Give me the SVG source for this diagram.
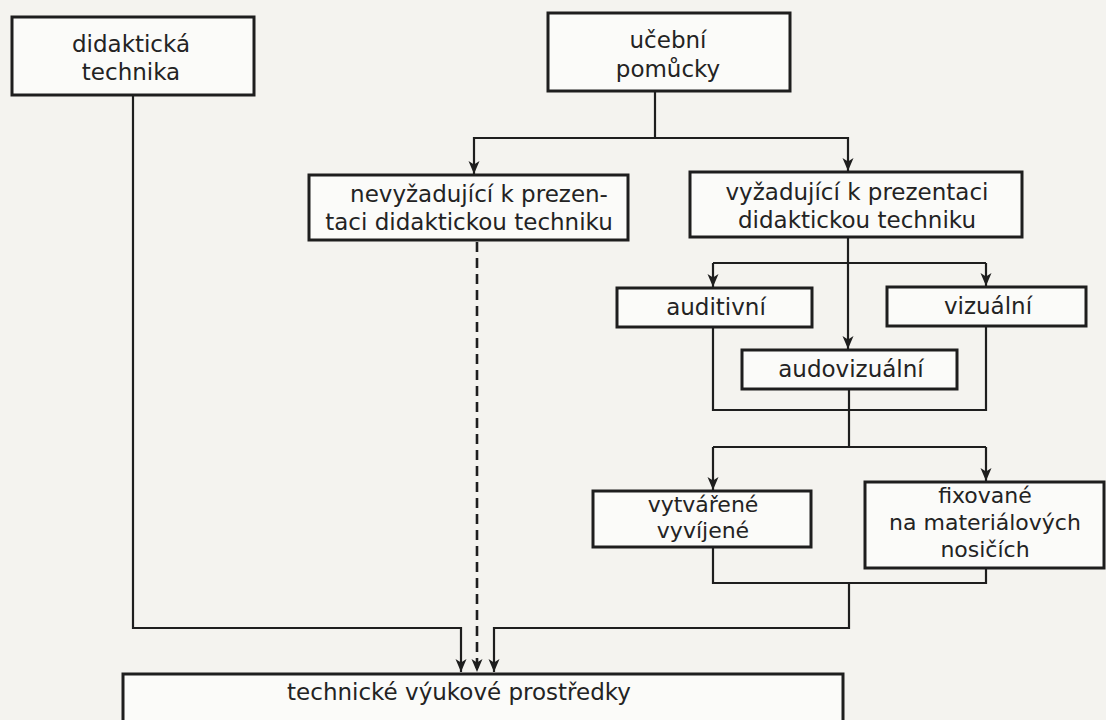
<svg xmlns="http://www.w3.org/2000/svg" width="1106" height="720" viewBox="0 0 1106 720">
<defs>
<marker id="arr" markerUnits="userSpaceOnUse" markerWidth="14" markerHeight="12" viewBox="0 0 14 12" refX="13" refY="6" orient="auto">
<path d="M0,0.5 L13,6 L0,11.5 L3.5,6 z" fill="#1e1e1e"/>
</marker>
<style>
.box{fill:#fbfbf9;stroke:#1e1e1e;stroke-width:3}
.t{font-family:"DejaVu Sans","Liberation Sans",sans-serif;font-size:23px;fill:#232323;text-anchor:middle}
.s{font-size:22px}
.c{fill:none;stroke:#1e1e1e;stroke-width:2.2}
.d{fill:none;stroke:#1e1e1e;stroke-width:2.6;stroke-dasharray:10 6}
</style>
</defs>
<rect width="1106" height="720" fill="#f4f3ef"/>
<g id="connectors">
<path class="c" d="M133,95 V628 H461 V672" marker-end="url(#arr)"/>
<path class="c" d="M655,91 V138 H474 V174" marker-end="url(#arr)"/>
<path class="c" d="M655,138 H848 V171" marker-end="url(#arr)"/>
<path class="c" d="M848,237 V349" marker-end="url(#arr)"/>
<path class="c" d="M713,263 H986" />
<path class="c" d="M713,263 V287" marker-end="url(#arr)"/>
<path class="c" d="M986,263 V286" marker-end="url(#arr)"/>
<path class="c" d="M713,327 V410 H986 V326"/>
<path class="c" d="M849,389 V447"/>
<path class="c" d="M713,447 H986"/>
<path class="c" d="M713,447 V490" marker-end="url(#arr)"/>
<path class="c" d="M986,447 V481" marker-end="url(#arr)"/>
<path class="c" d="M713,547 V583 H986 V568"/>
<path class="c" d="M849,583 V628 H494 V672" marker-end="url(#arr)"/>
<path class="d" d="M477,242 V672" marker-end="url(#arr)"/>
</g>
<g id="n-didakticka">
<rect class="box" x="12" y="17" width="242" height="78"/>
<text class="t" x="131" y="52">didaktická</text>
<text class="t" x="131" y="80">technika</text>
</g>
<g id="n-ucebni">
<rect class="box" x="548" y="13" width="242" height="78"/>
<text class="t" x="668" y="48">učební</text>
<text class="t" x="668" y="77">pomůcky</text>
</g>
<g id="n-nevyzadujici">
<rect class="box" x="309" y="175" width="319" height="65"/>
<text class="t" x="479" y="202">nevyžadující k prezen-</text>
<text class="t" x="469" y="230">taci didaktickou techniku</text>
</g>
<g id="n-vyzadujici">
<rect class="box" x="690" y="172" width="332" height="65"/>
<text class="t" x="857" y="200">vyžadující k prezentaci</text>
<text class="t" x="857" y="228">didaktickou techniku</text>
</g>
<g id="n-auditivni">
<rect class="box" x="617" y="288" width="195" height="39"/>
<text class="t" x="716" y="315">auditivní</text>
</g>
<g id="n-vizualni">
<rect class="box" x="887" y="287" width="199" height="39"/>
<text class="t" x="988" y="314">vizuální</text>
</g>
<g id="n-audovizualni">
<rect class="box" x="742" y="350" width="215" height="39"/>
<text class="t" x="851" y="377">audovizuální</text>
</g>
<g id="n-vytvarene">
<rect class="box" x="593" y="491" width="218" height="56"/>
<text class="t s" x="703" y="512">vytvářené</text>
<text class="t s" x="703" y="538">vyvíjené</text>
</g>
<g id="n-fixovane">
<rect class="box" x="865" y="482" width="239" height="86"/>
<text class="t s" x="985" y="503">fixované</text>
<text class="t s" x="985" y="530">na materiálových</text>
<text class="t s" x="985" y="557">nosičích</text>
</g>
<g id="n-technicke">
<rect class="box" x="123" y="674" width="720" height="60"/>
<text class="t" x="459" y="700">technické výukové prostředky</text>
</g>
</svg>
